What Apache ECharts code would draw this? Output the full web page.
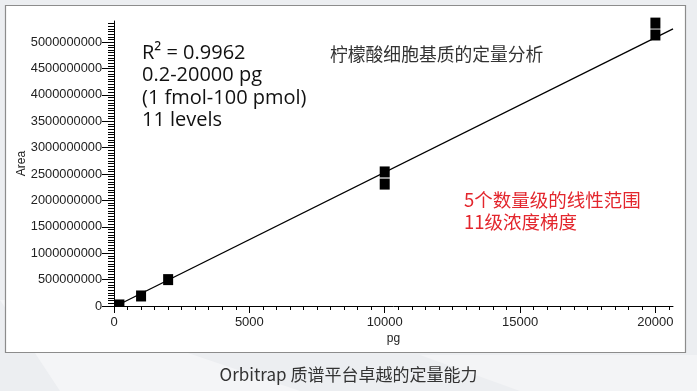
<!DOCTYPE html>
<html>
<head>
<meta charset="utf-8">
<script src="https://cdn.jsdelivr.net/npm/echarts@6/dist/echarts.min.js"></script>
<style>
html,body{margin:0;padding:0;background:#eceef1;}
#c{width:697px;height:391px;}
</style>
</head>
<body>
<div id="c"></div>
<script>
// Data
const amountPg = [200, 1000, 2000, 10000, 10000, 20000, 20000];
const areaValues = [2.0e7, 1.9e8, 5.0e8, 2.54e9, 2.31e9, 5.36e9, 5.135e9];
const fitX = [73, 20650];
const fitY = [0, 5.251e9];
const xTicks = [0, 5000, 10000, 15000, 20000];
const yTicks = [0, 5e8, 1e9, 1.5e9, 2e9, 2.5e9, 3e9, 3.5e9, 4e9, 4.5e9, 5e9];
const statLines = ['R\u00B2 = 0.9962', '0.2-20000 pg', '(1 fmol-100 pmol)', '11 levels'];
const titleText = '柠檬酸细胞基质的定量分析';
const redLines = ['5个数量级的线性范围', '11级浓度梯度'];
const captionText = 'Orbitrap 质谱平台卓越的定量能力';

const chart = echarts.init(document.getElementById('c'), null, {renderer: 'canvas'});

const pts = amountPg.map((x, i) => [x, areaValues[i]]);
const fitData = fitX.map((x, i) => [x, fitY[i]]);

const graphics = [
  {type: 'rect', z: -20, silent: true, shape: {x: 0, y: 0, width: 697, height: 391}, style: {fill: '#eceef1'}},
  {type: 'polygon', z: -19, silent: true, shape: {points: [[0, 300], [60, 391], [300, 391], [120, 330], [40, 300]]}, style: {fill: '#f4f5f7'}},
  {type: 'polygon', z: -19, silent: true, shape: {points: [[420, 355], [697, 355], [697, 391], [520, 391]]}, style: {fill: '#f3f4f6'}},
  {type: 'rect', z: -10, silent: true, shape: {x: 5.5, y: 5.5, width: 680, height: 347}, style: {fill: '#ffffff', stroke: '#8c8c8c', lineWidth: 1.2}},
  {type: 'text', z: 50, silent: true, left: 330, top: 45, style: {text: titleText, font: '17.8px "Noto Sans CJK SC"', fill: '#333'}},
  {type: 'text', z: 50, silent: true, left: 464, top: 189, style: {text: redLines.join('\n'), font: '18.5px "Noto Sans CJK SC"', fill: '#e3262d', lineHeight: 22}},
  {type: 'text', z: 50, silent: true, left: 'center', top: 366, style: {text: captionText, font: '17px "Noto Sans CJK SC"', fill: '#333'}}
];
statLines.forEach((t, i) => {
  graphics.push({type: 'text', z: 50, silent: true, left: 142, top: 43 + i * 22.5,
    style: {text: t, font: '20px "Open Sans"', fill: '#111'}});
});

chart.setOption({
  backgroundColor: 'transparent',
  animation: false,
  graphic: graphics,
  grid: {left: 114, right: 24, top: 21, bottom: 85, containLabel: false},
  xAxis: {
    type: 'value', min: 0, max: 20650, interval: 5000,
    name: 'pg', nameLocation: 'middle', nameGap: 27, nameMoveOverlap: false,
    nameTextStyle: {fontFamily: 'Liberation Sans', fontSize: 12, color: '#222'},
    axisLine: {show: true, onZero: false, lineStyle: {color: '#000', width: 1}},
    axisTick: {show: true, customValues: xTicks, length: 7, lineStyle: {color: '#000'}},
    minorTick: {show: true, splitNumber: 10, length: 4, lineStyle: {color: '#000'}},
    axisLabel: {customValues: xTicks, margin: 10, fontFamily: 'Liberation Sans', fontSize: 13, color: '#222', formatter: v => String(Math.round(v))},
    splitLine: {show: false}, minorSplitLine: {show: false}
  },
  yAxis: {
    type: 'value', min: 0, max: 5.4e9, interval: 5e8,
    name: 'Area', nameLocation: 'middle', nameGap: 86, nameRotate: 90, nameMoveOverlap: false,
    nameTextStyle: {fontFamily: 'Liberation Sans', fontSize: 12, color: '#222'},
    axisLine: {show: true, onZero: false, lineStyle: {color: '#000', width: 1}},
    axisTick: {show: true, customValues: yTicks, length: 12, lineStyle: {color: '#000'}},
    minorTick: {show: true, splitNumber: 10, length: 6, lineStyle: {color: '#000'}},
    axisLabel: {customValues: yTicks, margin: 12, fontFamily: 'Liberation Sans', fontSize: 12.8, color: '#222', formatter: v => String(Math.round(v))},
    splitLine: {show: false}, minorSplitLine: {show: false}
  },
  series: [
    {
      type: 'line', data: fitData, symbol: 'none', z: 3, clip: false,
      lineStyle: {color: '#000', width: 1.3}, silent: true
    },
    {
      type: 'custom', data: pts, z: 5, clip: false, silent: true,
      encode: {x: 0, y: 1},
      renderItem: function (params, api) {
        const p = api.coord([api.value(0), api.value(1)]);
        const cs = params.coordSys;
        const w = 10, h = 11;
        const top = p[1] - h / 2;
        const bottom = Math.min(p[1] + h / 2, cs.y + cs.height);
        return {type: 'rect', shape: {x: p[0] - w / 2, y: top, width: w, height: bottom - top}, style: {fill: '#000'}};
      }
    }
  ]
});
</script>
</body>
</html>
